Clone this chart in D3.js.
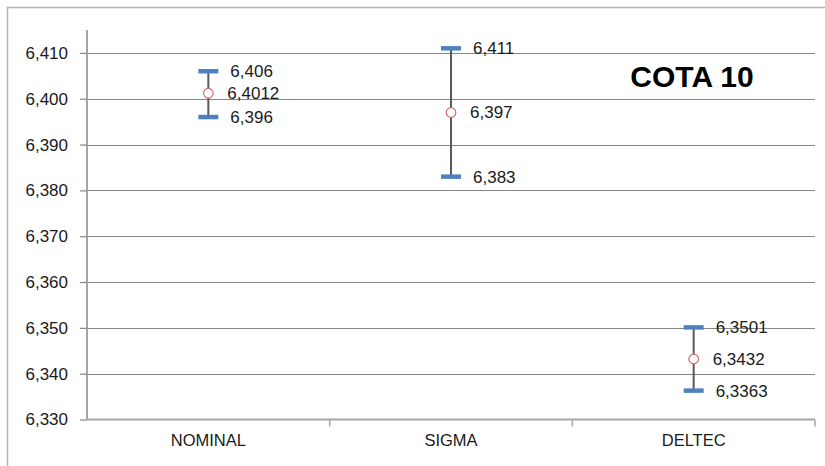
<!DOCTYPE html>
<html><head><meta charset="utf-8">
<script src="https://cdn.jsdelivr.net/npm/d3@7"></script>
<style>body{margin:0;background:#fff}svg{display:block}text{font-family:"Liberation Sans",Arial,sans-serif}</style>
</head><body>
<svg id="c" width="825" height="466"></svg>
<script>
const categories = ["NOMINAL", "SIGMA", "DELTEC"];
const highValues = [6.406, 6.411, 6.3501];
const meanValues = [6.4012, 6.397, 6.3432];
const lowValues  = [6.396, 6.383, 6.3363];
const highLabels = ["6,406", "6,411", "6,3501"];
const meanLabels = ["6,4012", "6,397", "6,3432"];
const lowLabels  = ["6,396", "6,383", "6,3363"];
const yTicks = [6.33, 6.34, 6.35, 6.36, 6.37, 6.38, 6.39, 6.40, 6.41];
const title = "COTA 10";

const svg = d3.select("#c");
const mLeft = 87, mRight = 815, mTop = 30, mBottom = 419.5;
const x = d3.scaleBand().domain(categories).range([mLeft, mRight]);
const y = d3.scaleLinear().domain([6.33, 6.415]).range([mBottom, mTop]);
const fmt = v => d3.format(".3f")(v).replace(".", ",");

// outer border (left & top only visible)
svg.append("path").attr("d", "M7.5,466V7.5H825").attr("fill", "none").attr("stroke", "#b5b5b5").attr("stroke-width", 1.5);

// gridlines
svg.append("g").selectAll("line").data(yTicks.slice(1)).join("line")
  .attr("x1", mLeft).attr("x2", mRight)
  .attr("y1", d => Math.round(y(d)) + 0.5).attr("y2", d => Math.round(y(d)) + 0.5)
  .attr("stroke", "#868686").attr("stroke-width", 1.2);

// y axis
const yAxis = d3.axisLeft(y).tickValues(yTicks).tickFormat(fmt).tickSize(7).tickPadding(12);
const gy = svg.append("g").attr("transform", `translate(${mLeft},0)`).call(yAxis);
gy.select(".domain").attr("stroke", "#a6a6a6").attr("stroke-width", 2).attr("d", `M0,${mTop}V${mBottom}`);
gy.selectAll(".tick line").attr("stroke", "#868686").attr("stroke-width", 1.2);
gy.selectAll(".tick text").attr("font-size", 17).attr("fill", "#1a1a1a");

// x axis
const xAxis = d3.axisBottom(x).tickSize(0).tickPadding(15);
const gx = svg.append("g").attr("transform", `translate(0,${mBottom})`).call(xAxis);
gx.select(".domain").attr("stroke", "#a6a6a6").attr("stroke-width", 2).attr("d", `M${mLeft},0H${mRight}`);
gx.selectAll(".tick text").attr("font-size", 16.5).attr("fill", "#1a1a1a");
// boundary ticks
gx.selectAll(".btick").data(d3.range(1, categories.length + 1)).join("line")
  .attr("x1", i => mLeft + i * x.bandwidth()).attr("x2", i => mLeft + i * x.bandwidth())
  .attr("y1", 0).attr("y2", 7).attr("stroke", "#a6a6a6").attr("stroke-width", 1.5);

const cx = d => x(d) + x.bandwidth() / 2;
const g = svg.append("g");
categories.forEach((c, i) => {
  const X = cx(c);
  g.append("line").attr("x1", X).attr("x2", X).attr("y1", y(highValues[i])).attr("y2", y(lowValues[i]))
    .attr("stroke", "#595959").attr("stroke-width", 2);
  [highValues[i], lowValues[i]].forEach(v => {
    g.append("line").attr("x1", X - 10).attr("x2", X + 10).attr("y1", y(v)).attr("y2", y(v))
      .attr("stroke", "#4f81bd").attr("stroke-width", 4.5);
  });
  g.append("circle").attr("cx", X).attr("cy", y(meanValues[i])).attr("r", 4.8)
    .attr("fill", "#fff").attr("stroke", "#d46a6a").attr("stroke-width", 1.2);
  g.append("text").attr("x", X + 22).attr("y", y(highValues[i])).attr("dy", "0.35em").attr("font-size", 17).attr("fill", "#1a1a1a").text(highLabels[i]);
  g.append("text").attr("x", X + 19).attr("y", y(meanValues[i])).attr("dy", "0.35em").attr("font-size", 17).attr("fill", "#1a1a1a").text(meanLabels[i]);
  g.append("text").attr("x", X + 22).attr("y", y(lowValues[i])).attr("dy", "0.35em").attr("font-size", 17).attr("fill", "#1a1a1a").text(lowLabels[i]);
});

svg.append("text").attr("x", 692).attr("y", 87).attr("text-anchor", "middle")
  .attr("font-size", 30).attr("font-weight", "bold").attr("fill", "#000").text(title);
</script>
</body></html>
